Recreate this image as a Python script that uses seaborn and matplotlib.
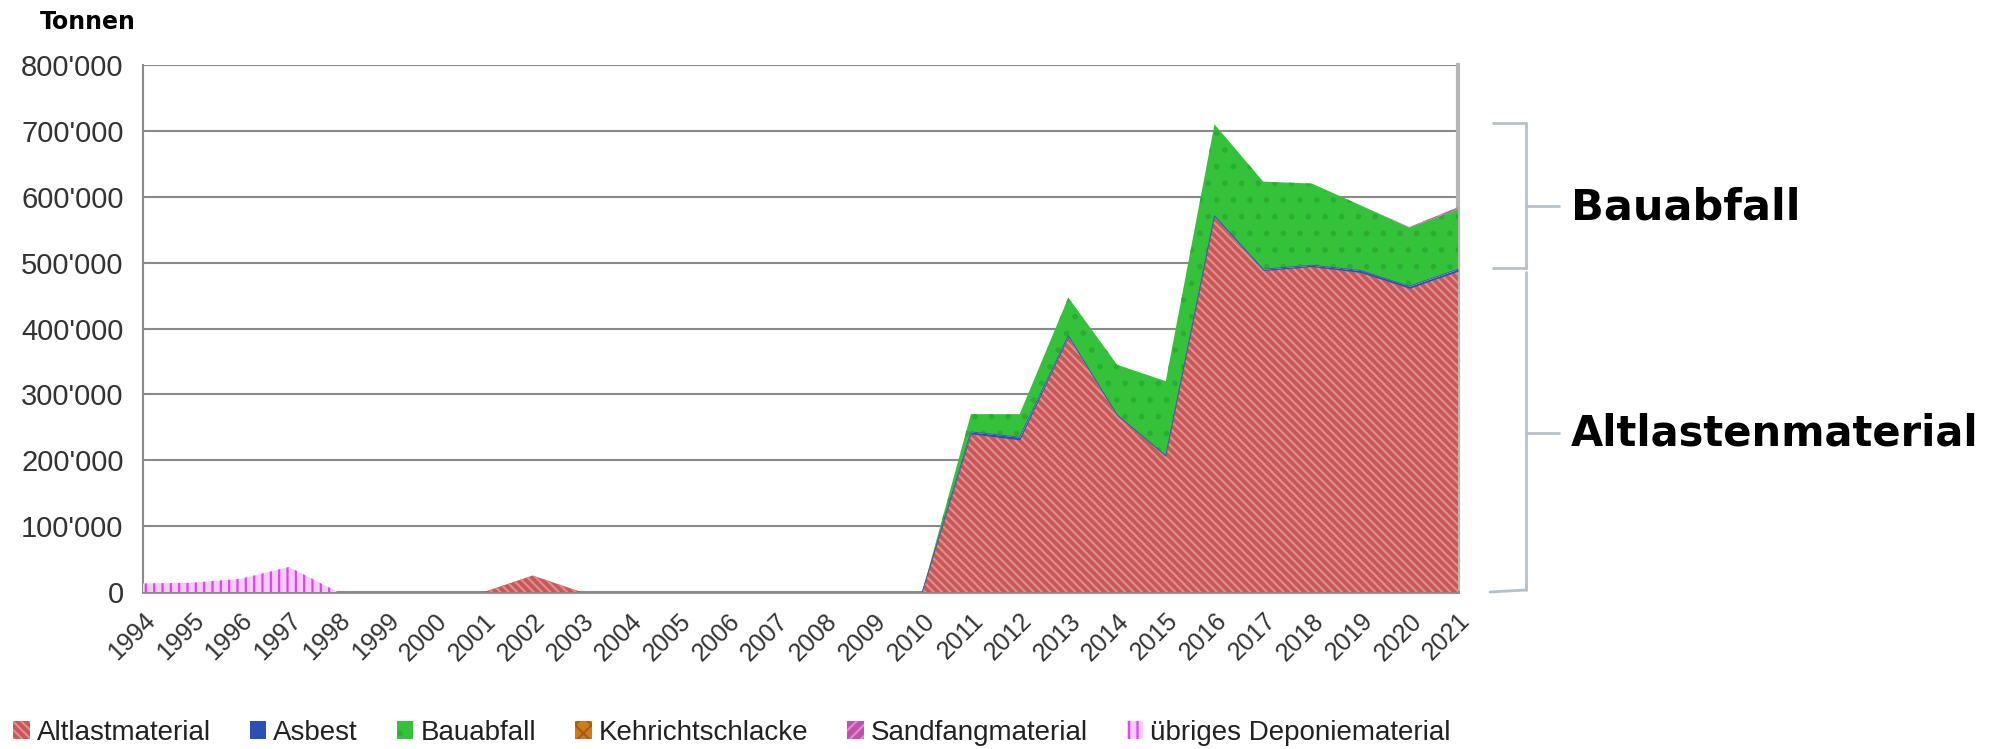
import matplotlib
matplotlib.use("Agg")
import matplotlib.pyplot as plt
import matplotlib.patches as mpatches
from matplotlib.lines import Line2D
from matplotlib.ticker import FuncFormatter
import numpy as np
import seaborn as sns

# values in 1000 t
years = list(range(1994, 2022))
altlastmaterial = [0, 0, 0, 0, 0, 0, 0, 0, 25, 0, 0, 0, 0, 0, 0, 0, 0,
                   240, 231, 387, 268, 206, 569, 488, 494, 485, 461, 487]
asbest = [0] * 17 + [3, 4, 2, 1, 1, 2, 2, 2, 3, 3, 3]
bauabfall = [0] * 17 + [27, 35, 58, 76, 113, 139, 133, 124, 99, 89, 91]
kehrichtschlacke = [0] * 28
sandfangmaterial = [0] * 26 + [1, 3]
uebriges = [13, 14, 20, 38] + [0] * 24

series_names = ["Altlastmaterial", "Asbest", "Bauabfall", "Kehrichtschlacke",
                "Sandfangmaterial", "übriges Deponiematerial"]
series_values = [altlastmaterial, asbest, bauabfall, kehrichtschlacke,
                 sandfangmaterial, uebriges]
face_colors = ["#c95757", "#2b4fb5", "#33c23a", "#d07a20", "#c050a8", "#f6cdf9"]
hatch_colors = ["#e08c8c", "#2b4fb5", "#2aad30", "#a85a10", "#e08ad0", "#e23ff7"]
hatches = ["\\\\\\\\", None, ".", "xx", "///", "||"]

sns.set_theme(style="white")
plt.rcParams["font.family"] = ["Liberation Sans", "DejaVu Sans"]
plt.rcParams["hatch.linewidth"] = 1.6

fig = plt.figure(figsize=(19.91, 7.49), dpi=100)
ax = fig.add_axes([143 / 1991, 1 - 592 / 749, (1458 - 143) / 1991, (592 - 65) / 749])

x = np.arange(len(years))
base = np.zeros(len(years))
for name, vals, fc, hc, h in zip(series_names, series_values, face_colors, hatch_colors, hatches):
    top = base + np.array(vals) * 1000
    ax.fill_between(x, base, top, facecolor=fc, edgecolor=hc, hatch=h, linewidth=0, zorder=3)
    base = top
# thin asbest edge on top of altlast
sns.lineplot(x=x[16:], y=(np.array(altlastmaterial) * 1000 + np.array(asbest) * 1000)[16:],
             ax=ax, color="#3a55b0", linewidth=0.7, zorder=4)

ax.set_xlim(0, len(years) - 1)
ax.set_ylim(0, 800000)
ax.set_yticks(np.arange(0, 800001, 100000))
ax.yaxis.set_major_formatter(FuncFormatter(lambda v, p: f"{int(v):,}".replace(",", "'")))
ax.set_xticks(x)
ax.set_xticklabels([str(y) for y in years], rotation=45, ha="right", rotation_mode="anchor")
ax.grid(axis="y", color="#8a8a8a", linewidth=1.5, zorder=1)
ax.set_axisbelow(True)
ax.tick_params(axis="both", direction="out", length=8, width=1.2, color="#8a8a8a",
               labelcolor="#333333", pad=6)
ax.tick_params(axis="y", labelsize=21)
ax.tick_params(axis="x", labelsize=18, pad=4)
ax.spines["top"].set_visible(False)
ax.spines["left"].set_color("#8a8a8a")
ax.spines["left"].set_linewidth(1.5)
ax.spines["bottom"].set_color("#8a8a8a")
ax.spines["bottom"].set_linewidth(2)
ax.spines["right"].set_color("#b5b5b5")
ax.spines["right"].set_linewidth(3)
ax.set_xlabel("")
ax.set_ylabel("")

fig.text(40 / 1991, 1 - 22 / 749, "Tonnen", fontsize=17, fontweight="heavy",
         family="DejaVu Sans", va="center", ha="left", color="black")

# legend
handles = [mpatches.Patch(facecolor=fc, edgecolor=hc, hatch=h, linewidth=0)
           for fc, hc, h in zip(face_colors, hatch_colors, hatches)]
fig.legend(handles, series_names, loc="center left", bbox_to_anchor=(13 / 1991, 1 - 733 / 749),
           ncol=6, frameon=False, fontsize=20, handlelength=0.6, handleheight=0.6,
           handletextpad=0.25, columnspacing=1.4, labelcolor="#222222",
           borderaxespad=0, borderpad=0)

# brackets on the right
def fx(px):
    return px / 1991

def fy(py):
    return 1 - py / 749

bracket_color = "#b8c0c8"
segments = [
    ((1493, 123), (1526, 123)), ((1526, 123), (1526, 268)), ((1493, 268), (1526, 268)),
    ((1526, 206), (1559, 206)),
    ((1526, 272), (1526, 590)), ((1490, 592), (1526, 590)), ((1526, 433), (1559, 433)),
]
for (x0, y0), (x1, y1) in segments:
    fig.add_artist(Line2D([fx(x0), fx(x1)], [fy(y0), fy(y1)], color=bracket_color, linewidth=2))

fig.text(fx(1571), fy(208), "Bauabfall", fontsize=31, fontweight="heavy",
         family="DejaVu Sans", va="center", ha="left", color="black")
fig.text(fx(1571), fy(433), "Altlastenmaterial", fontsize=30, fontweight="heavy",
         family="DejaVu Sans", va="center", ha="left", color="black")

fig.savefig("out.png", dpi=100)
